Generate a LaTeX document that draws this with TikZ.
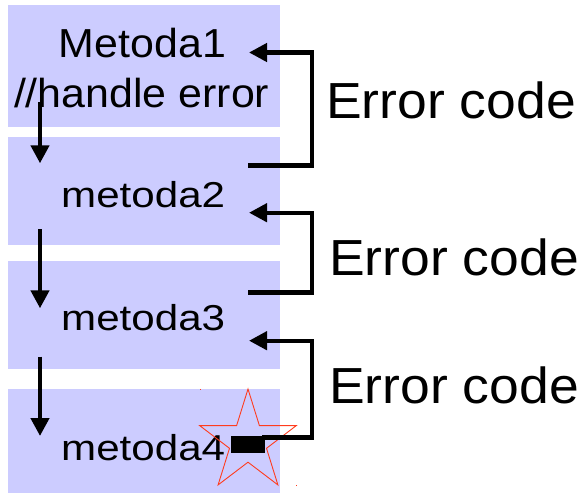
\documentclass[tikz,border=0pt]{standalone}
\usepackage{fontspec}
\setmainfont{Liberation Sans}
\usetikzlibrary{arrows.meta}
\definecolor{boxfill}{RGB}{204,204,255}
\definecolor{starred}{RGB}{255,60,30}
\begin{document}
\begin{tikzpicture}[x=1pt,y=-1pt,
  box/.style={fill=boxfill, draw=none, inner sep=0pt, anchor=north west, minimum width=272pt},
  bigtxt/.style={inner sep=0pt, font=\fontsize{40.5}{48}\selectfont},
  smalltxt/.style={inner sep=0pt, anchor=base west, font=\fontsize{36}{43}\selectfont},
  errtxt/.style={inner sep=0pt, anchor=base west, font=\fontsize{50.7}{60}\selectfont},
  wire/.style={line width=4.3pt, -{Triangle[length=18pt,width=18pt]}, line join=miter},
  startrace/.style={draw=starred, line width=0.9pt, line join=miter}]
\useasboundingbox (0,0) rectangle (584,493);
% boxes
\node[box, minimum height=122pt] (b1) at (8,5) {};
\node[box, minimum height=108pt] (b2) at (8,137) {};
\node[box, minimum height=108pt] (b3) at (8,261) {};
\node[box, minimum height=104pt] (b4) at (8,389) {};
% texts
\node[bigtxt, anchor=base] (t1) at (142.5,57.3) {\scalebox{1.06}[1]{Metoda1}};
\node[bigtxt, anchor=base] (t1b) at (141.7,107.3) {\scalebox{1.06}[1]{//handle error}};
\node[smalltxt] (t2) at (61,207.3) {\scalebox{1.17}[1]{metoda2}};
\node[smalltxt] (t3) at (61,330) {\scalebox{1.17}[1]{metoda3}};
\node[smalltxt] (t4) at (61,460) {\scalebox{1.17}[1]{metoda4}};
\node[errtxt] (e1) at (326,118) {\scalebox{1.055}[1]{Error code}};
\node[errtxt] (e2) at (329,275) {\scalebox{1.055}[1]{Error code}};
\node[errtxt] (e3) at (329,403) {\scalebox{1.055}[1]{Error code}};
% down arrows
\coordinate (d1s) at (40,101.7); \coordinate (d1e) at (40,163.3);
\coordinate (d2s) at (40,229);   \coordinate (d2e) at (40,308.3);
\coordinate (d3s) at (40,356.7); \coordinate (d3e) at (40,436);
\draw[wire] (d1s) -- (d1e);
\draw[wire] (d2s) -- (d2e);
\draw[wire] (d3s) -- (d3e);
% star
\draw[startrace] (248,389) -- (259.4,425.6) -- (296.3,425.6) -- (266.5,448.3)
  -- (277.9,484.9) -- (248,462.2) -- (218.1,484.9) -- (229.5,448.3)
  -- (199.7,425.6) -- (236.6,425.6) -- cycle;
\fill[starred] (200,388.5) rectangle (201.2,389.7);
\fill[starred] (296,484.5) rectangle (297.2,485.7);
% black block
\node[fill=black, inner sep=0pt, minimum width=34pt, minimum height=17pt, anchor=north west] (blk) at (231,436) {};
% error code returns
\coordinate (r1s) at (248,165.5); \coordinate (r1e) at (249,52.5);
\coordinate (r2s) at (248,292.5); \coordinate (r2e) at (249,212.7);
\coordinate (r3s) at (262,437.5); \coordinate (r3e) at (249,340.7);
\draw[wire] (r1s) -- (312,165.5) -- (312,52.5) -- (r1e);
\draw[wire] (r2s) -- (312,292.5) -- (312,212.7) -- (r2e);
\draw[wire] (r3s) -- (312,437.5) -- (312,340.7) -- (r3e);
\end{tikzpicture}
\end{document}
